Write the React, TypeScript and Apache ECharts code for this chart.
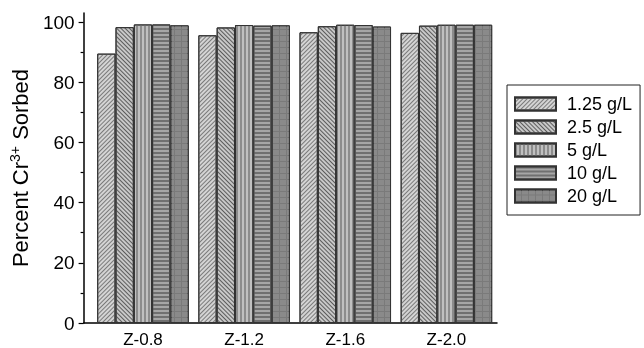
import React, { useEffect, useRef } from "react";
import * as echarts from "echarts";

const categories = ["Z-0.8", "Z-1.2", "Z-1.6", "Z-2.0"];
const seriesNames = ["1.25 g/L", "2.5 g/L", "5 g/L", "10 g/L", "20 g/L"];
const s125 = [89.5, 95.6, 96.6, 96.4];
const s25 = [98.3, 98.2, 98.6, 98.8];
const s5 = [99.2, 99.0, 99.1, 99.1];
const s10 = [99.2, 98.8, 99.0, 99.1];
const s20 = [98.9, 98.9, 98.5, 99.1];
const majorTicks = [0, 20, 40, 60, 80, 100];
const minorTicks = [10, 30, 50, 70, 90];

const decals: any[] = [
  { symbol: "rect", dashArrayX: [1, 0], dashArrayY: [1, 2], rotation: -Math.PI / 4, color: "#7a7a7a", backgroundColor: "#e8e8e8", symbolSize: 1 },
  { symbol: "rect", dashArrayX: [1, 0], dashArrayY: [1, 2], rotation: Math.PI / 4, color: "#5c5c5c", backgroundColor: "#e0e0e0", symbolSize: 1 },
  { symbol: "rect", dashArrayX: [2, 2], dashArrayY: [1, 0], color: "#8c8c8c", backgroundColor: "#e2e2e2", symbolSize: 1 },
  { symbol: "rect", dashArrayX: [1, 0], dashArrayY: [2, 2], color: "#707070", backgroundColor: "#cacaca", symbolSize: 1 },
  { symbol: "rect", dashArrayX: [6, 1], dashArrayY: [5, 1], color: "#8a8a8a", backgroundColor: "#2a2a2a", symbolSize: 1 },
];
const fills = ["#d4d4d4", "#c8c8c8", "#c0c0c0", "#a6a6a6", "#7a7a7a"];

export default function App() {
  const ref = useRef<HTMLDivElement>(null);
  useEffect(() => {
    if (!ref.current) return;
    const chart = echarts.init(ref.current, undefined, { renderer: "svg" });
    const values = [s125, s25, s5, s10, s20];
    const catPos = categories.map((_, i) => i + 1);
    const font = "Liberation Sans, Arial, sans-serif";
    chart.setOption({
      animation: false,
      textStyle: { fontFamily: font, color: "#000" },
      grid: { left: 76, right: 147, top: 13, bottom: 15, containLabel: false },
      legend: {
        orient: "vertical",
        left: 507,
        top: 85,
        borderColor: "#222",
        borderWidth: 1,
        padding: [10, 8, 10, 7],
        itemWidth: 41,
        itemHeight: 13,
        itemGap: 5,
        icon: "rect",
        textStyle: { fontSize: 18, color: "#000", fontFamily: font, padding: [0, 0, 0, 6] },
        data: seriesNames,
      },
      xAxis: {
        type: "value",
        min: 0.413,
        max: 4.5,
        splitLine: { show: false },
        axisLine: { lineStyle: { color: "#000", width: 1.5 } },
        axisTick: { show: false },
        axisLabel: {
          fontSize: 17,
          color: "#000",
          margin: 8,
          fontFamily: font,
          customValues: catPos,
          formatter: (v: number) => categories[Math.round(v) - 1] ?? "",
        },
      },
      yAxis: [
        {
          type: "value",
          min: 0,
          max: 103,
          interval: 20,
          name: "Percent Cr{sup|3+} Sorbed",
          nameLocation: "middle",
          nameGap: 42,
          nameTextStyle: {
            fontSize: 22,
            color: "#000",
            fontFamily: font,
            lineHeight: 24,
            rich: { sup: { fontSize: 14, lineHeight: 14, verticalAlign: "top", fontFamily: font, color: "#000" } },
          },
          splitLine: { show: false },
          axisLine: { show: true, lineStyle: { color: "#000", width: 1.5 } },
          axisTick: { show: true, length: 5, customValues: majorTicks, lineStyle: { color: "#000", width: 1.2 } },
          axisLabel: { fontSize: 19, color: "#000", margin: 9, customValues: majorTicks, fontFamily: font },
        },
        {
          type: "value",
          min: 0,
          max: 103,
          position: "left",
          splitLine: { show: false },
          axisLine: { show: false },
          axisTick: { show: true, length: 3, customValues: minorTicks, lineStyle: { color: "#000", width: 1.2 } },
          axisLabel: { show: false },
        },
      ],
      series: seriesNames.map((name, i) => ({
        name,
        type: "bar",
        yAxisIndex: 0,
        data: values[i].map((v, j) => [catPos[j], v]),
        barGap: "0%",
        barCategoryGap: "9.5%",
        itemStyle: { color: fills[i], borderColor: "#333", borderWidth: 1, decal: decals[i] },
      })),
    });
    return () => chart.dispose();
  }, []);
  return <div ref={ref} style={{ position: "fixed", left: 0, top: 0, width: 644, height: 348 }} />;
}
